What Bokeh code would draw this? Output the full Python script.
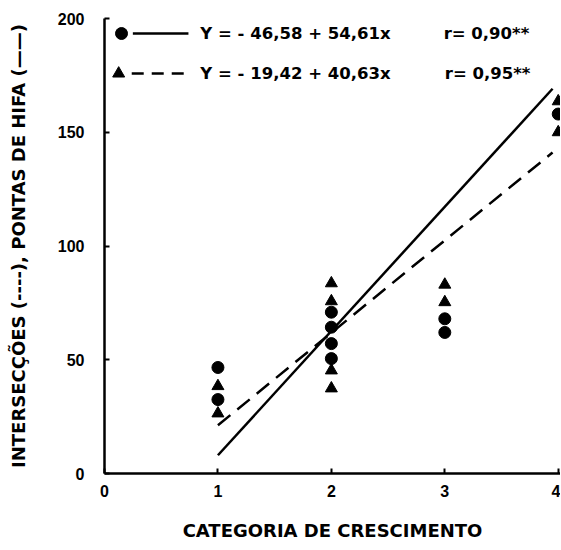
from bokeh.plotting import figure
from bokeh.models import Range1d, Label, FixedTicker
from bokeh.embed import file_html
from bokeh.resources import INLINE

# Data
circ_x = [1, 1, 2, 2, 2, 2, 3, 3, 4]
circ_y = [46.6, 32.5, 70.9, 64.3, 57.1, 50.5, 68.0, 62.0, 158.0]
tri_x = [1, 1, 2, 2, 2, 2, 3, 3, 4, 4]
tri_y = [38.4, 26.4, 83.6, 75.7, 45.3, 37.4, 83.0, 75.3, 163.6, 150.0]

# Regression lines (from legend equations)
a_solid, b_solid = -46.58, 54.61
a_dash, b_dash = -19.42, 40.63
line_x = [1.0, 3.95]

x_ticks = [0, 1, 2, 3, 4]
y_ticks = [0, 50, 100, 150, 200]

eq1 = "Y = - 46,58 + 54,61x"
eq2 = "Y = - 19,42 + 40,63x"
r1 = "r= 0,90**"
r2 = "r= 0,95**"
xlabel = "CATEGORIA DE CRESCIMENTO"
ylabel = "INTERSECÇÕES (----), PONTAS DE HIFA (——)"

W, H = 560, 545
p = figure(width=W, height=H, output_backend="svg", toolbar_location=None,
           x_range=Range1d(0, 4.02), y_range=Range1d(0, 200),
           min_border_left=104, min_border_right=0, min_border_top=18,
           min_border_bottom=72)
p.outline_line_color = None
p.grid.visible = False
p.background_fill_color = "white"
p.border_fill_color = "white"

for ax in (p.xaxis[0], p.yaxis[0]):
    ax.axis_line_width = 2.5
    ax.axis_line_color = "black"
    ax.major_tick_in = 5
    ax.major_tick_out = 0
    ax.major_tick_line_width = 2
    ax.minor_tick_line_color = None
    ax.major_label_text_font = "Liberation Sans"
    ax.major_label_text_font_style = "bold"
    ax.major_label_text_font_size = "16px"
    ax.major_label_text_color = "black"
    ax.axis_label_text_font = "DejaVu Sans"
    ax.axis_label_text_font_style = "bold"
    ax.axis_label_text_font_size = "18px"
    ax.axis_label_text_color = "black"

p.xaxis.ticker = FixedTicker(ticks=x_ticks)
p.yaxis.ticker = FixedTicker(ticks=y_ticks)
p.xaxis.major_label_standoff = 11
p.yaxis.major_label_standoff = 20
p.xaxis.axis_label = xlabel
p.yaxis.axis_label = ylabel
p.xaxis.axis_label_standoff = 20
p.yaxis.axis_label_standoff = 26

# regression lines
p.line(line_x, [a_solid + b_solid * x for x in line_x], line_color="black", line_width=2.5)
p.line(line_x, [a_dash + b_dash * x for x in line_x], line_color="black", line_width=2.5,
       line_dash="16 9")

# points
p.scatter(circ_x, circ_y, marker="circle", size=12, fill_color="black", line_color="black")
p.scatter(tri_x, tri_y, marker="triangle", size=12, fill_color="black", line_color="black")

# legend keys (data coords derived from the picture layout)
leg_y1, leg_y2 = 193.4, 175.8
p.scatter([0.15], [leg_y1], marker="circle", size=12, fill_color="black", line_color="black")
p.line([0.25, 0.74], [leg_y1, leg_y1], line_color="black", line_width=2.5)
p.scatter([0.125], [leg_y2], marker="triangle", size=12, fill_color="black", line_color="black")
p.line([0.24, 0.74], [leg_y2, leg_y2], line_color="black", line_width=2.5, line_dash="12 8")

for txt, x, y in [(eq1, 0.845, leg_y1), (eq2, 0.845, leg_y2), (r1, 2.99, leg_y1), (r2, 3.0, leg_y2)]:
    p.add_layout(Label(x=x, y=y, text=txt, text_font="DejaVu Sans", text_font_style="bold",
                       text_font_size="16.5px", text_color="black", text_baseline="middle",
                       text_align="left"))

open("out.html", "w").write(file_html(p, INLINE))
